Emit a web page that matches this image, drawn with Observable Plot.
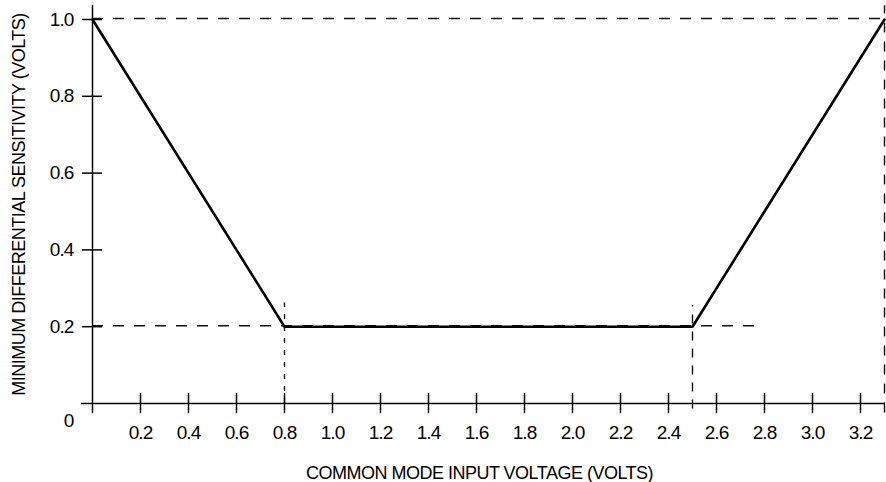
<!DOCTYPE html>
<html>
<head>
<meta charset="utf-8">
<script src="https://cdn.jsdelivr.net/npm/d3@7"></script>
<script src="https://cdn.jsdelivr.net/npm/@observablehq/plot@0.6"></script>
<style>
  html, body { margin: 0; padding: 0; background: #fff; }
  #chart svg { display: block; }
  #chart svg g.ticklab text { letter-spacing: -0.9px; }
</style>
</head>
<body>
<div id="chart"></div>
<script>
// ---- data ----
const curveX = [0, 0.8, 2.5, 3.3];
const curveY = [1.0, 0.2, 0.2, 1.0];

const xTicks = [0.2, 0.4, 0.6, 0.8, 1.0, 1.2, 1.4, 1.6, 1.8, 2.0, 2.2, 2.4, 2.6, 2.8, 3.0, 3.2];
const yTicks = [0.2, 0.4, 0.6, 0.8, 1.0];

// horizontal guide lines: value, start, end
const hGuideY = [1.0, 0.2];
const hGuideX1 = [0, 0];
const hGuideX2 = [3.3, 2.8];

// vertical guide lines: value, bottom, top
const vGuideX = [0.8, 2.5, 3.3];
const vGuideY1 = [0, -0.014, -0.025];
const vGuideY2 = [0.262, 0.255, 1.036];
const vGuideDash = ["5,7", "9,8", "10,9"];

const xTitle = "COMMON MODE INPUT VOLTAGE (VOLTS)";
const yTitle = "MINIMUM DIFFERENTIAL SENSITIVITY (VOLTS)";

const curve = curveX.map((x, i) => ({x, y: curveY[i]}));
const hGuides = hGuideY.map((y, i) => ({y, x1: hGuideX1[i], x2: hGuideX2[i]}));
const vGuides = vGuideX.map((x, i) => ({x, y1: vGuideY1[i], y2: vGuideY2[i], dash: vGuideDash[i]}));

const FONT = "'Liberation Sans', Arial, sans-serif";

const plot = Plot.plot({
  width: 886,
  height: 482,
  marginLeft: 92,
  marginRight: 2,
  marginTop: 19,
  marginBottom: 79,
  style: {fontFamily: FONT, fontSize: "18px", letterSpacing: "-0.5px", color: "#000", background: "#fff"},
  x: {domain: [0, 3.3], axis: null},
  y: {domain: [0, 1], axis: null},
  marks: [
    // guides
    Plot.ruleY(hGuides, {y: "y", x1: "x1", x2: "x2", stroke: "#111", strokeWidth: 1.4, strokeDasharray: "11,10", dy: -1}),
    ...vGuides.map(g => Plot.ruleX([g], {x: "x", y1: "y1", y2: "y2", stroke: "#111", strokeWidth: 1.4, strokeDasharray: g.dash})),
    // axes lines
    Plot.ruleY([0], {x1: 0, x2: 3.3, insetLeft: -11, insetRight: -1, stroke: "#000", strokeWidth: 1.5}),
    Plot.ruleX([0], {y1: 0, y2: 1, insetTop: 10, insetBottom: 14, stroke: "#000", strokeWidth: 1.5}),
    // ticks
    Plot.ruleX(xTicks, {x: d => d, y1: 0, y2: 0, insetTop: -10, insetBottom: -10, stroke: "#000", strokeWidth: 1.5}),
    Plot.ruleY(yTicks, {y: d => d, x1: 0, x2: 0, insetLeft: -10, insetRight: -10, stroke: "#000", strokeWidth: 1.5}),
    // tick labels
    Plot.text(xTicks, {x: d => d, y: 0, text: d => d.toFixed(1), dy: 29, fill: "#000", fontSize: 19, textAnchor: "middle", className: "ticklab"}),
    Plot.text(yTicks, {x: 0, y: d => d, text: d => d.toFixed(1), dx: -19, fill: "#000", fontSize: 19, textAnchor: "end", className: "ticklab"}),
    Plot.text([0], {x: 0, y: 0, text: d => "0", dx: -19, dy: 17, fill: "#000", fontSize: 19, textAnchor: "end", className: "ticklab"}),
    // curve
    Plot.line(curve, {x: "x", y: "y", stroke: "#000", strokeWidth: 2.6, strokeLinejoin: "miter"}),
    // titles
    Plot.text([xTitle], {frameAnchor: "bottom", text: d => d, dx: -9, dy: 75, fill: "#000", fontSize: 18, textAnchor: "middle"}),
    Plot.text([yTitle], {frameAnchor: "left", text: d => d, rotate: -90, dx: -73, dy: -7, fill: "#000", fontSize: 18, textAnchor: "middle", lineAnchor: "middle"})
  ]
});
document.getElementById("chart").appendChild(plot);
</script>
</body>
</html>
